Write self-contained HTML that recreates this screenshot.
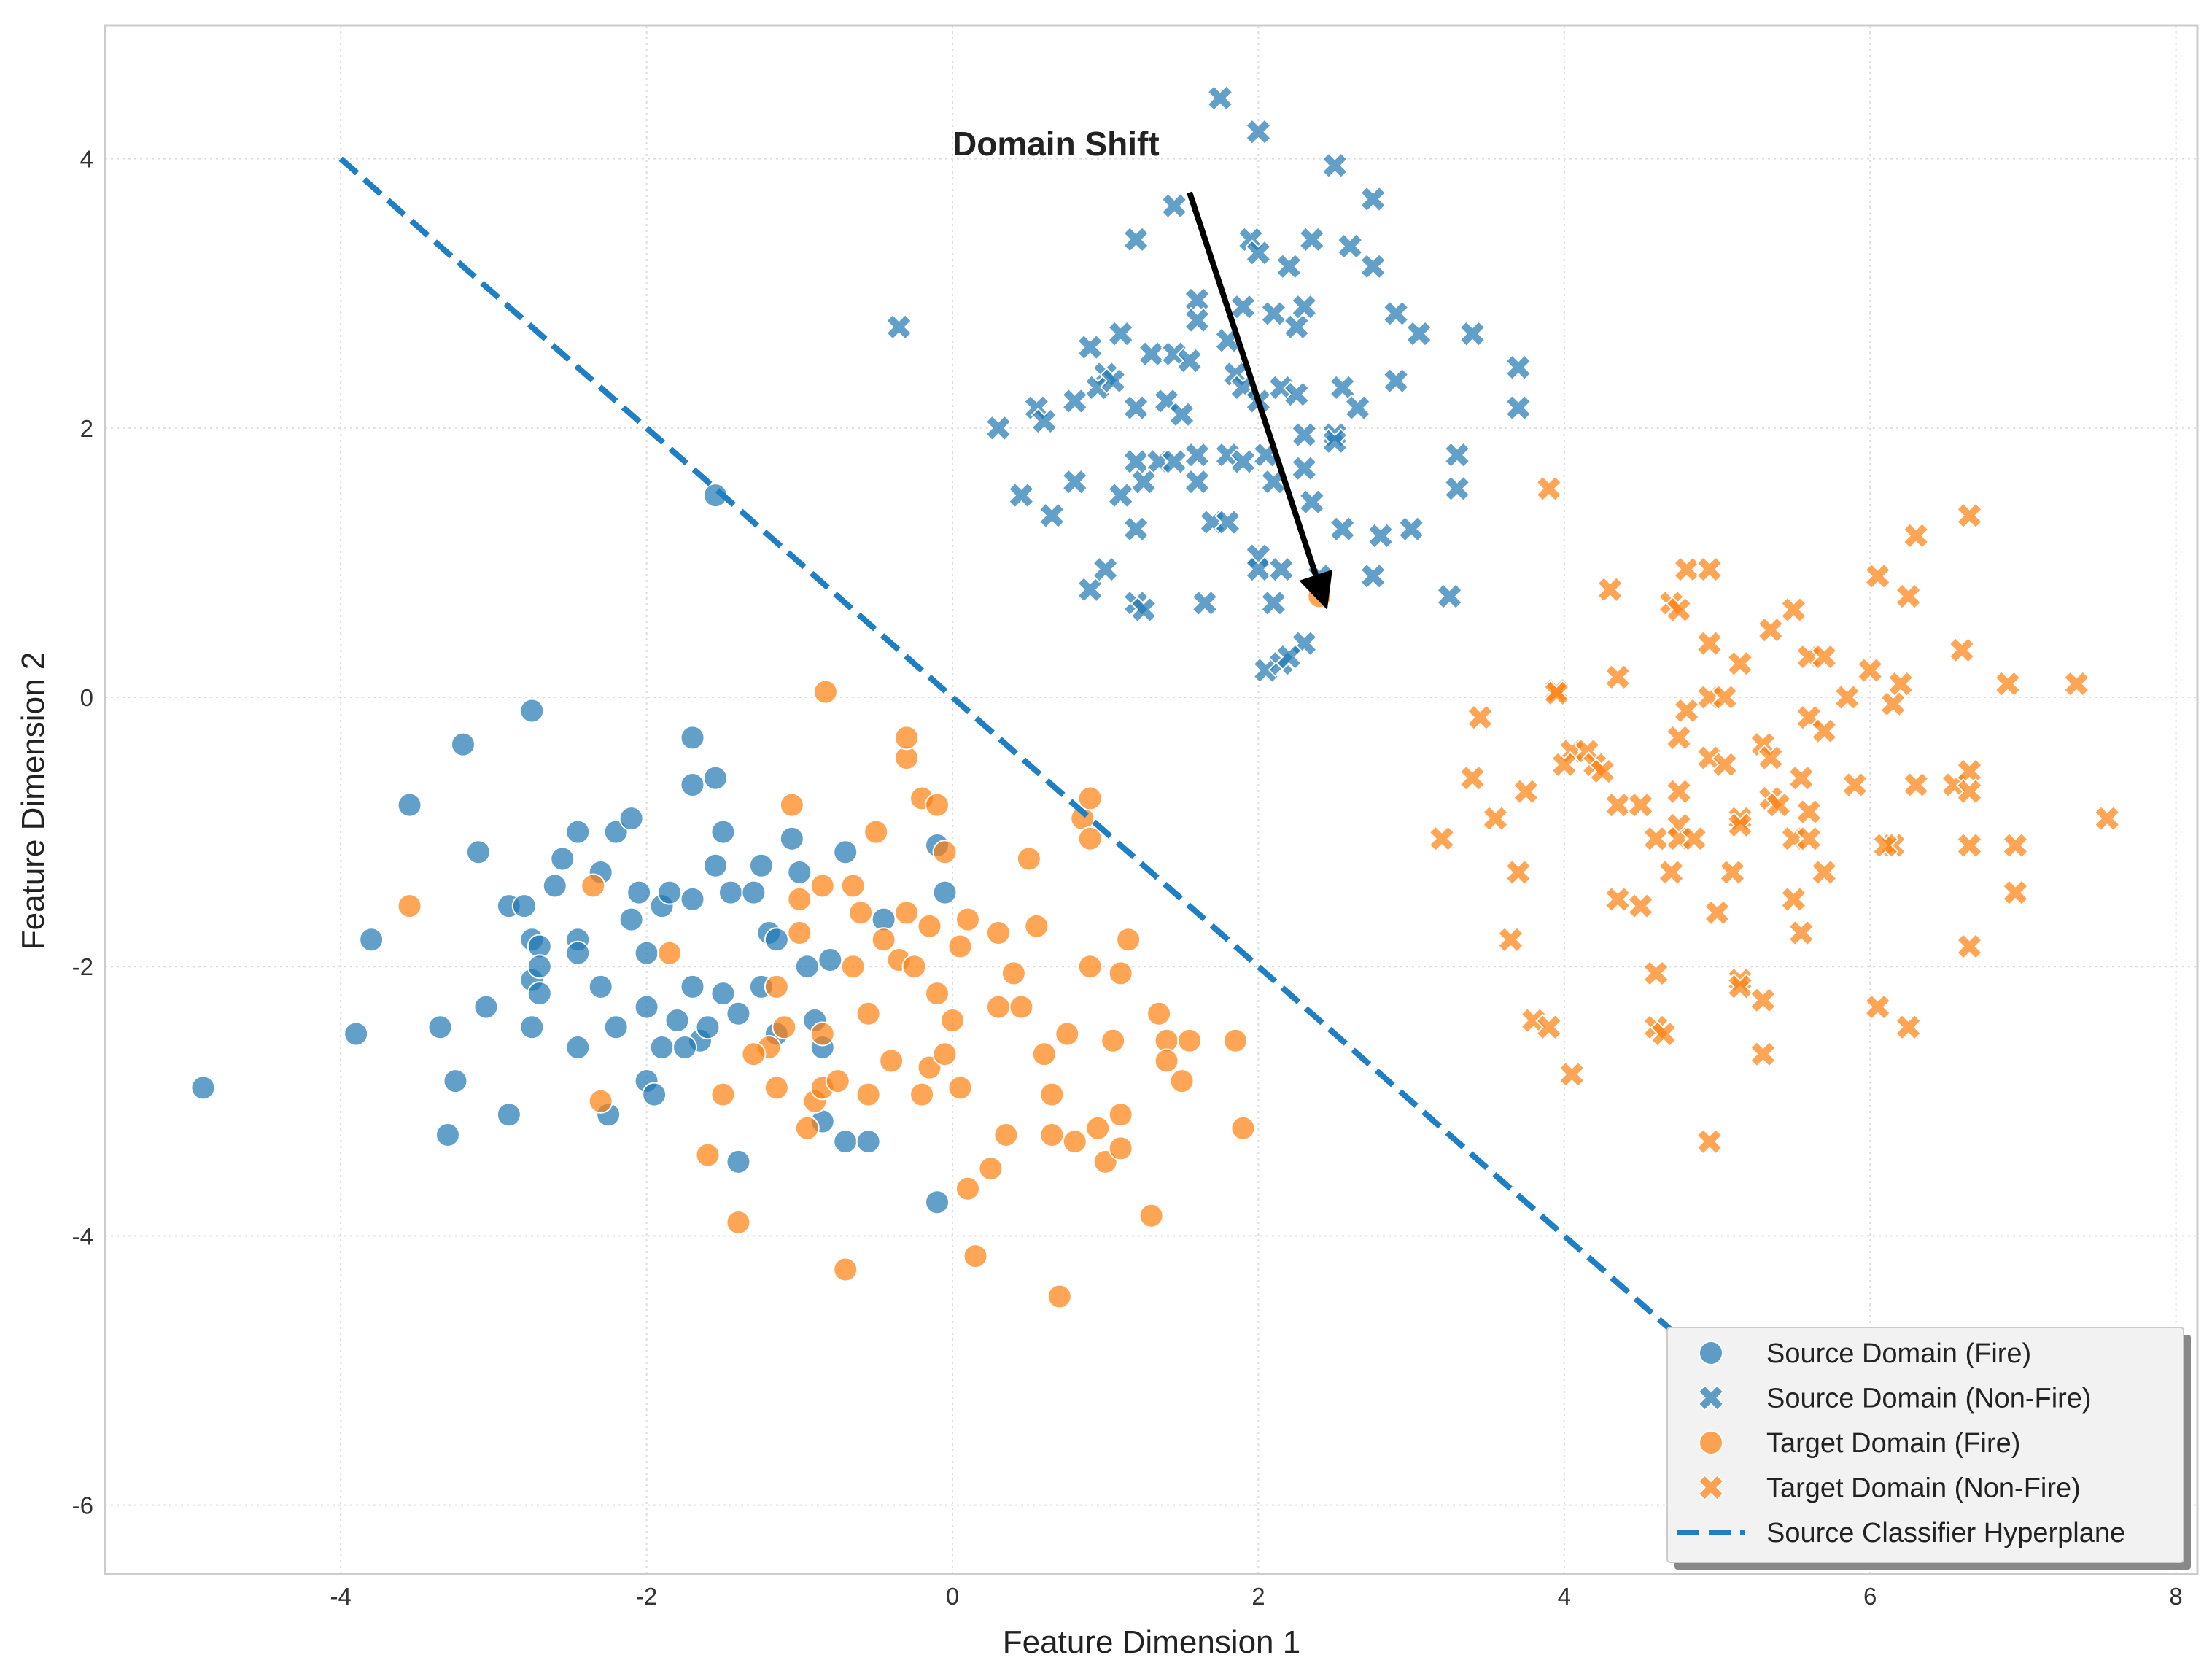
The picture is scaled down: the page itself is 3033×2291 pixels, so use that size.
<!DOCTYPE html>
<html><head><meta charset="utf-8"><style>
body{margin:0;background:#fff;}
svg{display:block;font-family:"Liberation Sans",sans-serif;}
</style></head><body>
<svg id="chart" width="3033" height="2291" viewBox="0 0 3033 2291" xmlns="http://www.w3.org/2000/svg">
<rect x="0" y="0" width="3033" height="2291" fill="#fff"/>
<g id="grid"></g>
<g id="ticks"></g>
<g id="marks"></g>
<rect x="144" y="35" width="2869" height="2123" fill="none" stroke="#cccccc" stroke-width="3"/>
<text x="1579" y="2266" font-size="44" text-anchor="middle" fill="#222">Feature Dimension 1</text>
<text x="0" y="0" font-size="44" text-anchor="middle" fill="#222" transform="translate(60,1098) rotate(-90)">Feature Dimension 2</text>
<g id="legend"></g>
</svg>
<script>
const xTicks=[-4,-2,0,2,4,6,8];
const yTicks=[4,2,0,-2,-4,-6];
const srcFire=[[-4.9,-2.9],[-3.8,-1.8],[-3.9,-2.5],[-3.55,-0.8],[-3.2,-0.35],[-3.1,-1.15],[-3.05,-2.3],[-3.3,-3.25],[-3.25,-2.85],[-3.35,-2.45],[-2.9,-3.1],[-2.75,-0.1],[-2.9,-1.55],[-2.8,-1.55],[-2.75,-1.8],[-2.7,-1.85],[-2.75,-2.1],[-2.7,-2.2],[-2.75,-2.45],[-2.55,-1.2],[-2.6,-1.4],[-2.45,-1.0],[-2.45,-1.8],[-2.45,-1.9],[-2.45,-2.6],[-2.3,-1.3],[-2.2,-1.0],[-2.2,-2.45],[-2.25,-3.1],[-2.1,-0.9],[-2.1,-1.65],[-2.05,-1.45],[-2.0,-1.9],[-2.0,-2.3],[-2.0,-2.85],[-1.95,-2.95],[-1.9,-1.55],[-1.9,-2.6],[-1.85,-1.45],[-1.8,-2.4],[-1.7,-0.3],[-1.7,-0.65],[-1.7,-1.5],[-1.7,-2.15],[-1.65,-2.55],[-1.55,-0.6],[-1.55,-1.25],[-1.5,-1.0],[-1.5,-2.2],[-1.45,-1.45],[-1.4,-2.35],[-1.4,-3.45],[-1.3,-1.45],[-1.25,-1.25],[-1.25,-2.15],[-1.2,-1.75],[-1.15,-2.5],[-1.05,-1.05],[-1.0,-1.3],[-0.95,-2.0],[-0.9,-2.4],[-0.85,-2.6],[-0.85,-3.15],[-0.8,-1.95],[-0.7,-1.15],[-0.7,-3.3],[-0.55,-3.3],[-0.45,-1.65],[-0.1,-1.1],[-0.05,-1.45],[-0.1,-3.75],[-1.55,1.5],[-1.15,-1.8],[-1.6,-2.45],[-1.75,-2.6],[-2.3,-2.15],[-2.7,-2.0]];
const tgtFire=[[-3.55,-1.55],[-2.35,-1.4],[-2.3,-3.0],[-1.85,-1.9],[-1.6,-3.4],[-1.5,-2.95],[-1.4,-3.9],[-1.2,-2.6],[-1.15,-2.9],[-1.15,-2.15],[-1.1,-2.45],[-1.05,-0.8],[-1.0,-1.5],[-1.0,-1.75],[-0.95,-3.2],[-0.9,-3.0],[-0.85,-1.4],[-0.85,-2.5],[-0.85,-2.9],[-0.83,0.04],[-0.7,-4.25],[-0.65,-1.4],[-0.65,-2.0],[-0.6,-1.6],[-0.55,-2.35],[-0.55,-2.95],[-0.5,-1.0],[-0.45,-1.8],[-0.4,-2.7],[-0.35,-1.95],[-0.3,-0.45],[-0.3,-0.3],[-0.3,-1.6],[-0.25,-2.0],[-0.2,-0.75],[-0.15,-1.7],[-0.15,-2.75],[-0.1,-0.8],[-0.1,-2.2],[-0.05,-1.15],[-0.05,-2.65],[0.0,-2.4],[0.05,-1.85],[0.05,-2.9],[0.1,-1.65],[0.1,-3.65],[0.15,-4.15],[0.25,-3.5],[0.3,-2.3],[0.35,-3.25],[0.4,-2.05],[0.45,-2.3],[0.5,-1.2],[0.55,-1.7],[0.6,-2.65],[0.65,-2.95],[0.65,-3.25],[0.7,-4.45],[0.75,-2.5],[0.8,-3.3],[0.85,-0.9],[0.9,-0.75],[0.9,-1.05],[0.9,-2.0],[0.95,-3.2],[1.0,-3.45],[1.05,-2.55],[1.1,-2.05],[1.1,-3.35],[1.1,-3.1],[1.15,-1.8],[1.35,-2.35],[1.4,-2.55],[1.4,-2.7],[1.5,-2.85],[1.55,-2.55],[1.3,-3.85],[1.85,-2.55],[1.9,-3.2],[0.3,-1.75],[-0.2,-2.95],[-1.3,-2.65],[-0.75,-2.85],[2.4,0.75]];
const srcNon=[[1.75,4.45],[2.0,4.2],[2.5,3.95],[1.45,3.65],[2.75,3.7],[1.2,3.4],[1.95,3.4],[2.35,3.4],[2.6,3.35],[2.0,3.3],[2.2,3.2],[2.75,3.2],[-0.35,2.75],[1.6,2.95],[1.6,2.8],[1.9,2.9],[2.1,2.85],[2.3,2.9],[2.25,2.75],[2.9,2.85],[3.05,2.7],[3.4,2.7],[1.1,2.7],[1.3,2.55],[1.45,2.55],[1.55,2.5],[0.9,2.6],[1.0,2.4],[0.95,2.3],[1.05,2.35],[1.8,2.65],[1.85,2.4],[1.9,2.3],[2.15,2.3],[2.25,2.25],[2.55,2.3],[2.9,2.35],[3.7,2.45],[3.7,2.15],[0.55,2.15],[0.6,2.05],[0.8,2.2],[1.2,2.15],[1.4,2.2],[1.5,2.1],[0.3,2.0],[2.0,2.2],[2.65,2.15],[2.3,1.95],[2.5,1.95],[2.5,1.9],[1.2,1.75],[1.35,1.75],[1.45,1.75],[1.6,1.8],[1.8,1.8],[1.9,1.75],[2.05,1.8],[2.3,1.7],[0.8,1.6],[1.25,1.6],[1.6,1.6],[2.1,1.6],[3.3,1.8],[3.3,1.55],[0.45,1.5],[1.1,1.5],[2.35,1.45],[0.65,1.35],[1.2,1.25],[1.7,1.3],[1.8,1.3],[2.55,1.25],[2.8,1.2],[3.0,1.25],[2.0,1.05],[2.0,0.95],[2.15,0.95],[2.4,0.9],[2.75,0.9],[0.9,0.8],[1.0,0.95],[1.2,0.7],[1.25,0.65],[1.65,0.7],[2.1,0.7],[3.25,0.75],[2.05,0.2],[2.15,0.25],[2.3,0.4],[2.2,0.3]];
const tgtNon=[[3.9,1.55],[6.65,1.35],[6.3,1.2],[4.8,0.95],[4.95,0.95],[6.05,0.9],[4.3,0.8],[6.25,0.75],[4.7,0.7],[4.75,0.65],[5.35,0.5],[5.5,0.65],[4.95,0.4],[5.15,0.25],[6.6,0.35],[5.6,0.3],[6.0,0.2],[4.35,0.15],[5.7,0.3],[6.2,0.1],[6.9,0.1],[7.35,0.1],[3.95,0.05],[3.95,0.03],[4.95,0.0],[5.05,0.0],[5.85,0.0],[6.15,-0.05],[3.45,-0.15],[4.8,-0.1],[5.6,-0.15],[5.7,-0.25],[4.75,-0.3],[5.3,-0.35],[4.05,-0.4],[4.15,-0.4],[4.0,-0.5],[4.2,-0.5],[4.25,-0.55],[4.95,-0.45],[5.05,-0.5],[5.35,-0.45],[3.4,-0.6],[4.75,-0.7],[5.35,-0.75],[5.55,-0.6],[5.9,-0.65],[6.3,-0.65],[6.55,-0.65],[6.65,-0.55],[6.65,-0.7],[3.75,-0.7],[4.35,-0.8],[4.5,-0.8],[5.4,-0.8],[5.6,-0.85],[3.55,-0.9],[4.75,-0.95],[5.15,-0.9],[5.15,-0.95],[7.55,-0.9],[3.2,-1.05],[4.6,-1.05],[4.75,-1.05],[4.85,-1.05],[5.5,-1.05],[5.6,-1.05],[6.15,-1.1],[6.1,-1.1],[6.65,-1.1],[6.95,-1.1],[3.7,-1.3],[4.7,-1.3],[5.1,-1.3],[5.7,-1.3],[4.35,-1.5],[4.5,-1.55],[5.0,-1.6],[5.5,-1.5],[6.95,-1.45],[3.65,-1.8],[5.55,-1.75],[6.65,-1.85],[4.6,-2.05],[5.15,-2.1],[5.15,-2.15],[5.3,-2.25],[6.05,-2.3],[3.8,-2.4],[3.9,-2.45],[4.6,-2.45],[4.65,-2.5],[6.25,-2.45],[5.3,-2.65],[4.05,-2.8],[4.95,-3.3]];
const hyperplane=[[-4,4],[5.7,-5.7]];
const arrowFrom=[1.55,3.75];
const arrowTo=[2.45,0.65];
const legendLabels=["Source Domain (Fire)","Source Domain (Non-Fire)","Target Domain (Fire)","Target Domain (Non-Fire)","Source Classifier Hyperplane"];

const NS="http://www.w3.org/2000/svg";
const X=v=>1306+v*209.7;
const Y=v=>956-v*184.6;
const BLUE="#1f77b4",ORANGE="#ff7f0e";
function mk(tag,parent,attrs){const e=document.createElementNS(NS,tag);for(const k in attrs)e.setAttribute(k,attrs[k]);parent.appendChild(e);return e;}
const grid=document.getElementById('grid'),ticks=document.getElementById('ticks'),marks=document.getElementById('marks'),leg=document.getElementById('legend');
xTicks.forEach(t=>{
  const l=mk('line',grid,{x1:X(t),x2:X(t),y1:35,y2:2158,stroke:'#dddddd','stroke-width':2,'stroke-dasharray':'3,5'});
  
  
  const tx=mk('text',ticks,{x:X(t),y:2200,'font-size':33,'text-anchor':'middle',fill:'#333'});tx.textContent=t;
  
  
});
yTicks.forEach(t=>{
  const l=mk('line',grid,{x1:144,x2:3013,y1:Y(t),y2:Y(t),stroke:'#dddddd','stroke-width':2,'stroke-dasharray':'3,5'});
  
  
  const tx=mk('text',ticks,{x:128,y:Y(t)+12,'font-size':33,'text-anchor':'end',fill:'#333'});tx.textContent=t;
  
  
});
function circle(parent,cx,cy,color,r){return mk('circle',parent,{cx:cx,cy:cy,r:r||16,fill:color,'fill-opacity':0.7,stroke:'#fff','stroke-width':2});}
function xmark(parent,cx,cy,color,s){s=s||17;const a=s*0.5;
  const p=[[-s,-s+a],[-s+a,-s],[0,-a],[s-a,-s],[s,-s+a],[a,0],[s,s-a],[s-a,s],[0,a],[-s+a,s],[-s,s-a],[-a,0]];
  return mk('polygon',parent,{points:p.map(q=>(cx+q[0])+','+(cy+q[1])).join(' '),fill:color,'fill-opacity':0.7,stroke:'#fff','stroke-width':2});}
srcFire.forEach(d=>{const e=circle(marks,X(d[0]),Y(d[1]),BLUE);
  
  });
srcNon.forEach(d=>{const e=xmark(marks,X(d[0]),Y(d[1]),BLUE);
  
  });
tgtFire.forEach(d=>{const e=circle(marks,X(d[0]),Y(d[1]),ORANGE);
  
  });
tgtNon.forEach(d=>{const e=xmark(marks,X(d[0]),Y(d[1]),ORANGE);
  
  });
const hp=mk('line',marks,{x1:X(hyperplane[0][0]),y1:Y(hyperplane[0][1]),x2:X(hyperplane[1][0]),y2:Y(hyperplane[1][1]),stroke:'#1f7fc4','stroke-width':8,'stroke-dasharray':'30,13'});


const ax1=X(arrowFrom[0]),ay1=Y(arrowFrom[1]),ax2=X(arrowTo[0]),ay2=Y(arrowTo[1]);
const ang=Math.atan2(ay2-ay1,ax2-ax1),hl=50,hw=24;
const bx=ax2-hl*Math.cos(ang),by=ay2-hl*Math.sin(ang);
const ar=mk('g',marks,{});


mk('line',ar,{x1:ax1,y1:ay1,x2:bx,y2:by,stroke:'#000','stroke-width':8});
mk('polygon',ar,{points:`${ax2},${ay2} ${bx+hw*Math.sin(ang)},${by-hw*Math.cos(ang)} ${bx-hw*Math.sin(ang)},${by+hw*Math.cos(ang)}`,fill:'#000'});
const at=mk('text',marks,{x:1306,y:213,'font-size':46,'font-weight':'bold',fill:'#222'});at.textContent='Domain Shift';


mk('rect',leg,{x:2296,y:1830,width:708,height:322,fill:'#888',rx:4});
mk('rect',leg,{x:2286,y:1820,width:708,height:322,fill:'#f2f2f2',stroke:'#cccccc','stroke-width':2,rx:4});
legendLabels.forEach((lab,i)=>{
  const cy=1855+i*61.5,g=mk('g',leg,{});
  
  
  if(i===0)circle(g,2346,cy,BLUE);
  if(i===1)xmark(g,2346,cy,BLUE);
  if(i===2)circle(g,2346,cy,ORANGE);
  if(i===3)xmark(g,2346,cy,ORANGE);
  if(i===4)mk('line',g,{x1:2300,x2:2392,y1:cy,y2:cy,stroke:'#1f7fc4','stroke-width':8,'stroke-dasharray':'30,13'});
  const t=mk('text',g,{x:2422,y:cy+13,'font-size':38,fill:'#222'});t.textContent=lab;
});
</script>
</body></html>
